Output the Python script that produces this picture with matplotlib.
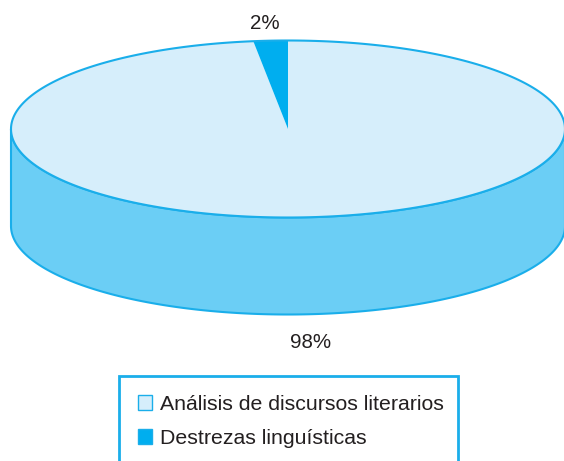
import numpy as np
import matplotlib.pyplot as plt
from matplotlib.patches import Polygon, Rectangle

# data
labels = ["Análisis de discursos literarios", "Destrezas linguísticas"]
values = [98, 2]
pct_labels = ["98%", "2%"]

top_colors = ["#D6EEFB", "#00AEEF"]
side_colors = ["#6BCEF5", "#0095D0"]
edge_color = "#1AAEEA"
text_color = "#231F20"

# pie geometry (pixel space)
cx, cy = 288, 129
rx, ry = 277, 88.5
depth = 97
start = 90

plt.rcParams["font.family"] = ["Liberation Sans", "DejaVu Sans"]

fig = plt.figure(figsize=(5.64, 4.61), dpi=100)
ax = fig.add_axes([0, 0, 1, 1])
ax.set_xlim(0, 564)
ax.set_ylim(461, 0)
ax.axis("off")


def arc(t0, t1, yc, n=300):
    t = np.radians(np.linspace(t0, t1, n))
    return np.column_stack([cx + rx * np.cos(t), yc - ry * np.sin(t)])


fracs = np.array(values) / sum(values)
bounds = start - 360 * np.concatenate([[0], np.cumsum(fracs)])

# front walls
for i in range(len(values)):
    a0, a1 = bounds[i + 1], bounds[i]
    for k in range(-2, 2):
        lo = max(a0, 180 + 360 * k)
        hi = min(a1, 360 + 360 * k)
        if hi > lo:
            pts = np.vstack([arc(lo, hi, cy), arc(hi, lo, cy + depth)])
            ax.add_patch(Polygon(pts, closed=True, fc=side_colors[i],
                                 ec=edge_color, lw=1.5, zorder=1))

# top faces
for i in range(len(values)):
    a0, a1 = bounds[i + 1], bounds[i]
    pts = np.vstack([[cx, cy], arc(a0, a1, cy)])
    ax.add_patch(Polygon(pts, closed=True, fc=top_colors[i],
                         ec="none", lw=0, zorder=2))
ax.add_patch(Polygon(arc(0, 360, cy), closed=True, fc="none",
                     ec=edge_color, lw=1.5, zorder=3))

# percentage labels
ax.text(311, 348, pct_labels[0], fontsize=14.8, color=text_color,
        ha="center", va="baseline")
ax.text(265, 29, pct_labels[1], fontsize=14.8, color=text_color,
        ha="center", va="baseline")

# legend box (runs off the bottom edge)
ax.add_patch(Rectangle((119, 376), 339, 100, fc="white", ec=edge_color,
                       lw=2, zorder=4, clip_on=False))
for i, lab in enumerate(labels):
    y0 = 395 + i * 34
    ax.add_patch(Rectangle((138, y0), 14, 15, fc=top_colors[i],
                           ec=edge_color, lw=1, zorder=5))
    ax.text(160, y0 + 15, lab, fontsize=15.3, color=text_color,
            ha="left", va="baseline", zorder=5)

fig.savefig("out.png", dpi=100)
